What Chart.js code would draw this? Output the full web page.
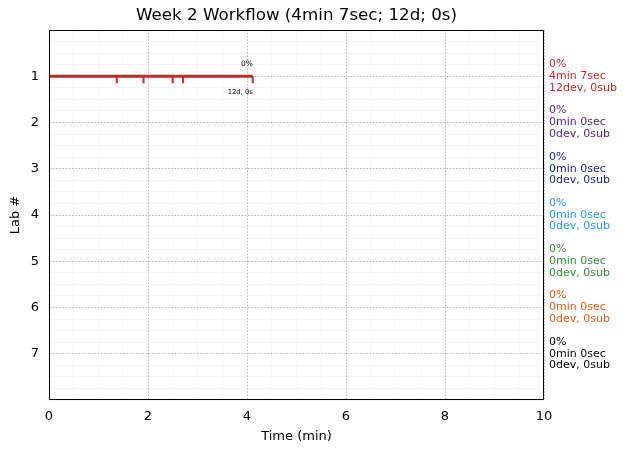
<!DOCTYPE html>
<html>
<head>
<meta charset="utf-8">
<script src="https://cdn.jsdelivr.net/npm/chart.js@4/dist/chart.umd.min.js"></script>
<style>
  body { margin: 0; background: #fff; }
  canvas { display: block; }
</style>
</head>
<body>
<canvas id="workflowChart" width="627" height="453"></canvas>
<script>
// lab rows and their summary text (right side)
const labs = [1, 2, 3, 4, 5, 6, 7];
const labColors = ['#c62828', '#4b1f8c', '#1a237e', '#2196f3', '#2e8b32', '#e65c0e', '#000000'];
const labPercent = ['0%', '0%', '0%', '0%', '0%', '0%', '0%'];
const labTime = ['4min 7sec', '0min 0sec', '0min 0sec', '0min 0sec', '0min 0sec', '0min 0sec', '0min 0sec'];
const labCounts = ['12dev, 0sub', '0dev, 0sub', '0dev, 0sub', '0dev, 0sub', '0dev, 0sub', '0dev, 0sub', '0dev, 0sub'];

// lab 1 workflow: span and event ticks (minutes)
const lab1Span = [0, 4.117];
const lab1Events = [0, 1.37, 1.91, 2.5, 2.71, 4.117];
const lab1EndTop = '0%';
const lab1EndBottom = '12d, 0s';

const chartTitle = 'Week 2 Workflow (4min 7sec; 12d; 0s)';
const xTicks = [0, 2, 4, 6, 8, 10];
const yTicks = [1, 2, 3, 4, 5, 6, 7];

const tickDepth = 0.15;
const eventData = [];
lab1Events.forEach(t => {
    eventData.push({x: t, y: 1});
    eventData.push({x: t, y: 1 + tickDepth});
    eventData.push({x: t, y: null});
});

const labelPlugin = {
    id: 'labText',
    afterDraw(chart) {
        const ctx = chart.ctx;
        const area = chart.chartArea;
        const xs = chart.scales.x;
        const ys = chart.scales.y;
        ctx.save();
        // frame
        ctx.strokeStyle = '#000';
        ctx.lineWidth = 1;
        ctx.strokeRect(area.left + 0.5, area.top + 0.5, area.right - area.left - 1, area.bottom - area.top - 1);
        // title centred over the plot
        ctx.fillStyle = '#000';
        ctx.font = '16.7px "DejaVu Sans"';
        ctx.textAlign = 'center';
        ctx.textBaseline = 'middle';
        ctx.fillText(chartTitle, (area.left + area.right) / 2, 16);
        // right side summaries
        ctx.font = '11px "DejaVu Sans"';
        ctx.textAlign = 'left';
        labs.forEach((lab, i) => {
            const yc = ys.getPixelForValue(lab);
            ctx.fillStyle = labColors[i];
            ctx.fillText(labPercent[i], area.right + 5, yc - 12);
            ctx.fillText(labTime[i], area.right + 5, yc);
            ctx.fillText(labCounts[i], area.right + 5, yc + 11.5);
        });
        // end labels of lab 1
        const xe = xs.getPixelForValue(lab1Span[1]);
        const y1 = ys.getPixelForValue(1);
        ctx.fillStyle = '#000';
        ctx.textAlign = 'right';
        ctx.font = '7.5px "DejaVu Sans"';
        ctx.fillText(lab1EndTop, xe, y1 - 12);
        ctx.font = '6.8px "DejaVu Sans"';
        ctx.fillText(lab1EndBottom, xe, y1 + 16);
        ctx.restore();
    }
};

const ctx = document.getElementById('workflowChart').getContext('2d');
const workflowChart = new Chart(ctx, {
    type: 'scatter',
    data: {
        datasets: [
            {
                label: 'Lab 1',
                data: lab1Span.map(t => ({x: t, y: 1})),
                showLine: true,
                borderColor: labColors[0],
                borderWidth: 3,
                pointRadius: 0,
                borderCapStyle: 'butt'
            },
            {
                label: 'Lab 1 events',
                data: eventData,
                showLine: true,
                spanGaps: false,
                borderColor: labColors[0],
                borderWidth: 2,
                pointRadius: 0,
                borderCapStyle: 'butt'
            }
        ]
    },
    options: {
        responsive: false,
        animation: false,
        layout: { padding: { left: 0, right: 83, top: 30, bottom: 0 } },
        plugins: {
            legend: { display: false },
            tooltip: { enabled: false },
            title: { display: false }
        },
        scales: {
            xMinor: {
                type: 'linear', position: 'bottom', min: 0, max: 10,
                ticks: { display: false, stepSize: 0.5 },
                grid: { color: '#f6f6f6', lineWidth: 1, drawTicks: false },
                border: { display: false },
                afterFit(axis) { axis.height = 0; }
            },
            yMinor: {
                type: 'linear', position: 'left', min: 0, max: 8, reverse: true,
                ticks: { display: false, stepSize: 0.25 },
                grid: { color: '#f6f6f6', lineWidth: 1, drawTicks: false },
                border: { display: false },
                afterFit(axis) { axis.width = 0; }
            },
            x: {
                type: 'linear', position: 'bottom', min: 0, max: 10,
                afterBuildTicks(axis) { axis.ticks = xTicks.map(v => ({value: v})); },
                ticks: { color: '#000', padding: 9, font: { family: 'DejaVu Sans', size: 13 } },
                grid: { color: '#b0b0b0', lineWidth: 1, drawTicks: false },
                border: { display: true, color: 'rgba(0,0,0,0)', dash: [1.2, 2] },
                title: {
                    display: true, text: 'Time (min)', color: '#000',
                    font: { family: 'DejaVu Sans', size: 13 },
                    padding: { top: 0, bottom: 9 }
                },
                afterFit(axis) { axis.height = 53; }
            },
            y: {
                type: 'linear', position: 'left', min: 0, max: 8, reverse: true,
                afterBuildTicks(axis) { axis.ticks = yTicks.map(v => ({value: v})); },
                ticks: { color: '#000', padding: 10, font: { family: 'DejaVu Sans', size: 13 } },
                grid: { color: '#b0b0b0', lineWidth: 1, drawTicks: false },
                border: { display: true, color: 'rgba(0,0,0,0)', dash: [1.2, 2] },
                title: {
                    display: true, text: 'Lab #', color: '#000',
                    font: { family: 'DejaVu Sans', size: 13 },
                    padding: { top: 8, bottom: 0 }
                },
                afterFit(axis) { axis.width = 49; }
            }
        }
    },
    plugins: [labelPlugin]
});
</script>
</body>
</html>
